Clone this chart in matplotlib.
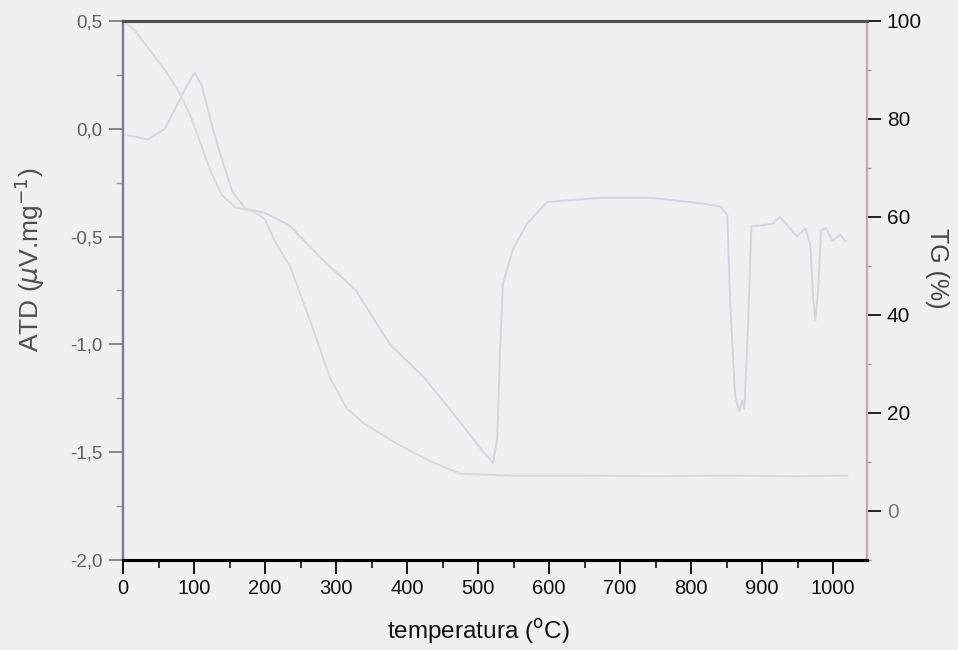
import matplotlib
matplotlib.use('Agg')
import matplotlib.pyplot as plt
from matplotlib.ticker import MultipleLocator, FuncFormatter

plt.rcParams['font.family'] = ['Liberation Sans', 'DejaVu Sans']

# ATD curve (uV/mg) vs temperature (C)
t_atd = [7, 35, 59, 76, 90, 101, 111, 125, 139, 154, 172, 200, 235, 282, 328, 376,
         423, 465, 503, 521, 527, 531, 535, 549, 569, 597, 672, 742, 813, 841,
         851, 855, 862, 868, 872, 875, 880, 885, 897, 915, 925, 939, 949, 961,
         968, 972, 975, 979, 983, 990, 999, 1010, 1017]
atd = [-0.03, -0.05, 0.0, 0.11, 0.20, 0.26, 0.20, 0.02, -0.14, -0.29, -0.37, -0.39,
       -0.45, -0.61, -0.75, -1.0, -1.15, -1.32, -1.48, -1.55, -1.44, -1.03, -0.72,
       -0.56, -0.44, -0.34, -0.32, -0.32, -0.345, -0.36, -0.40, -0.80, -1.24, -1.31,
       -1.26, -1.30, -0.93, -0.45, -0.45, -0.44, -0.41, -0.46, -0.50, -0.46, -0.54,
       -0.79, -0.89, -0.75, -0.47, -0.46, -0.52, -0.49, -0.52]

# TG curve (% mass) vs temperature (C)
t_tg = [3, 17, 38, 59, 77, 94, 108, 123, 139, 158, 186, 200, 214, 235, 263, 292,
        315, 338, 386, 432, 475, 513, 552, 650, 750, 850, 950, 1020]
tg = [99.8, 98, 94, 90, 86, 81, 75.5, 69.5, 64.5, 62, 61, 59.5, 55, 50, 39, 27,
      21, 18, 13.7, 10.2, 7.6, 7.4, 7.2, 7.2, 7.1, 7.2, 7.1, 7.2]

bg = '#f0f0f0'
fig = plt.figure(figsize=(9.58, 6.5), dpi=100, facecolor=bg)
ax = fig.add_axes([0.1284, 0.1385, 0.7768, 0.8292], facecolor=bg)
ax2 = ax.twinx()

ax.plot(t_atd, atd, color='#d3d6de', lw=1.4)
ax2.plot(t_tg, tg, color='#d9d9d9', lw=1.4)

ax.set_xlim(0, 1048)
ax.set_ylim(-2.0, 0.5)
ax2.set_ylim(-10, 100)

# spines
for a in (ax, ax2):
    a.spines['top'].set_color('#505050')
    a.spines['top'].set_linewidth(2.2)
    a.spines['bottom'].set_color('black')
    a.spines['bottom'].set_linewidth(2.2)
    a.spines['left'].set_color('#7c7c9c')
    a.spines['left'].set_linewidth(1.6)
    a.spines['right'].set_color('#d8a4ac')
    a.spines['right'].set_linewidth(1.6)

# x axis
ax.xaxis.set_minor_locator(MultipleLocator(50))
ax.set_xticks(range(0, 1001, 100))
ax.tick_params(axis='x', which='major', direction='out', length=10, width=1.3,
               color='black', labelsize=14.5, labelcolor='#111111', pad=4)
ax.tick_params(axis='x', which='minor', direction='out', length=6, width=1.1, color='black')

# left axis
ax.yaxis.set_major_locator(MultipleLocator(0.5))
ax.yaxis.set_minor_locator(MultipleLocator(0.25))
ax.yaxis.set_major_formatter(FuncFormatter(lambda v, p: ('%.1f' % v).replace('.', ',')))
ax.tick_params(axis='y', which='major', direction='out', length=10, width=1.2,
               color='#777777', labelsize=13.5, labelcolor='#606060', pad=5)
ax.tick_params(axis='y', which='minor', direction='out', length=5, width=1.0, color='#999999')

# right axis
ax2.yaxis.set_major_locator(MultipleLocator(20))
ax2.yaxis.set_minor_locator(MultipleLocator(10))
ax2.tick_params(axis='y', which='major', direction='out', length=10, width=1.2,
                color='black', labelsize=15, labelcolor='#111111', pad=4)
ax2.tick_params(axis='y', which='minor', direction='out', length=3, width=1.0, color='#999999')
for lab in ax2.get_yticklabels():
    if lab.get_text() in ('0', '−0'):
        lab.set_color('#777777')

ax.set_xlabel('temperatura ($^{\\rm o}$C)', fontsize=17.5, color='#111111')
ax.xaxis.set_label_coords(0.477, -0.105)
ax.set_ylabel('ATD ($\\mu$V.mg$^{-1}$)', fontsize=19, color='#505050')
ax.yaxis.set_label_coords(-0.102, 0.557)
ax2.set_ylabel('TG (%)', fontsize=18, color='#444444', rotation=-90)
ax2.yaxis.set_label_coords(1.11, 0.542)

fig.savefig('out.png', dpi=100, facecolor=bg)
